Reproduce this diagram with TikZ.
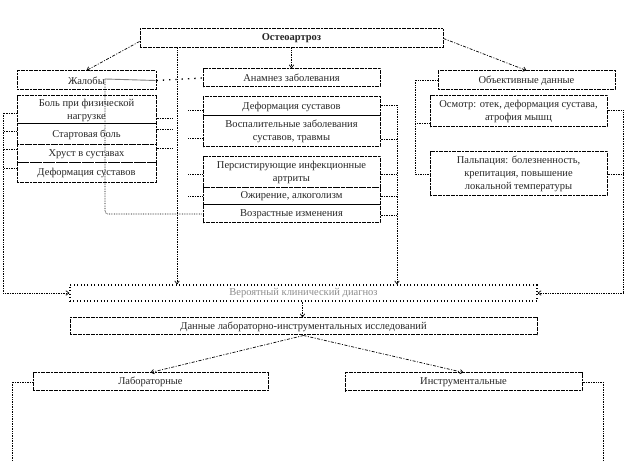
\documentclass[tikz,border=0pt]{standalone}
\usepackage{fontspec}
\setmainfont{Liberation Serif}
\usetikzlibrary{arrows.meta,positioning}

\begin{document}
\begin{tikzpicture}[x=1pt,y=-1pt,
  every node/.style={font=\fontsize{10.5}{13}\selectfont,text=black!85},
  box/.style={draw,line width=1pt,dash pattern=on 2pt off .6pt,inner sep=0pt,align=center},
  dbox/.style={draw,line width=1.1pt,dash pattern=on 1pt off 2.4pt,inner sep=0pt,align=center},
  lnk/.style={line width=.7pt,densely dotted},
  ldot/.style={line width=1.3pt,dash pattern=on 1.3pt off 5pt},
  ldd/.style={line width=.7pt,dash pattern=on 3pt off 1.5pt on 1pt off 1.5pt},
  arr/.style={-{Straight Barb[length=3pt,width=4.5pt]}}]
\useasboundingbox (0,0) rectangle (625,462);
% bus lines
\coordinate (bL) at (3,0);
\coordinate (cR) at (172,0);
\coordinate (cL) at (177,0);
\coordinate (mL) at (188,0);
\coordinate (mR) at (397,0);
\coordinate (rL) at (415,0);
\coordinate (rR) at (623,0);
\coordinate (gK) at (105,79);
\coordinate (lB) at (12,462);
\coordinate (rB) at (603,462);
% top
\node[box,minimum width=303,minimum height=19,font=\fontsize{10.5}{13}\selectfont\bfseries] (ost) at (291.5,38.5) {Остеоартроз};
% left column
\node[box,minimum width=139,minimum height=19] (zhal) at (86.5,80.5) {Жалобы};
\node[box,minimum width=139,minimum height=28] (bol) at (86.5,110) {Боль при физической\\нагрузке};
\node[box,minimum width=139,minimum height=21] (start) at (86.5,134.5) {Стартовая боль};
\node[box,minimum width=139,minimum height=18] (hrust) at (86.5,154) {Хруст в суставах};
\node[box,minimum width=139,minimum height=20] (defl) at (86.5,173) {Деформация суставов};
% middle column
\node[box,minimum width=177,minimum height=18] (anam) at (291.5,78) {Анамнез заболевания};
\node[box,minimum width=177,minimum height=19] (defm) at (291.5,106.5) {Деформация суставов};
\node[box,minimum width=177,minimum height=31] (vosp) at (291.5,131.5) {Воспалительные заболевания\\суставов, травмы};
\node[box,minimum width=177,minimum height=31] (pers) at (291.5,172.5) {Персистирующие инфекционные\\артриты};
\node[box,minimum width=177,minimum height=17] (ozh) at (291.5,196.5) {Ожирение, алкоголизм};
\node[box,minimum width=177,minimum height=18] (vozr) at (291.5,214) {Возрастные изменения};
% right column
\node[box,minimum width=177,minimum height=19] (obj) at (526.5,80.5) {Объективные данные};
\node[box,minimum width=177,minimum height=31] (osm) at (518.5,111.5) {Осмотр: отек, деформация сустава,\\атрофия мышц};
\node[box,minimum width=177,minimum height=44] (palp) at (518.5,174) {Пальпация: болезненность,\\крепитация, повышение\\локальной температуры};
% lower part
\node[dbox,minimum width=467,minimum height=16,text=black!45] (diag) at (303.5,293) {Вероятный клинический диагноз};
\node[box,minimum width=467,minimum height=17] (dann) at (303.5,326.5) {Данные лабораторно-инструментальных исследований};
\node[box,minimum width=235,minimum height=18] (lab) at (150.5,382) {Лабораторные};
\node[box,minimum width=237,minimum height=18] (instr) at (463.5,382) {Инструментальные};

% from the top box
\draw[ldd,arr] ([yshift=-3]ost.west) -- (zhal.north);
\draw[ldd,arr] (ost.east) -- (obj.north);
\draw[lnk,arr] (ost.south) -- (anam.north);
\draw[lnk,arr] (ost.south -| cL) -- (diag.north -| cL);
\draw[ldot] (zhal.east) -- (anam.west);
% left column
\draw[lnk] ([yshift=-3]bol.west) -- ([yshift=-3]bol.west -| bL);
\draw[lnk] ([yshift=3]start.west) -- ([yshift=3]start.west -| bL);
\draw[lnk] ([yshift=5]hrust.west) -- ([yshift=5]hrust.west -| bL);
\draw[lnk] ([yshift=5]defl.west) -- ([yshift=5]defl.west -| bL);
\draw[lnk,arr] ([yshift=-3]bol.west -| bL) |- (diag.west);
\draw[lnk] ([yshift=-8]bol.east) -- ([yshift=-8]bol.east -| cR);
\draw[lnk] ([yshift=5]start.east) -- ([yshift=5]start.east -| cR);
\draw[lnk] ([yshift=6]hrust.east) -- ([yshift=6]hrust.east -| cR);
\draw[gray,line width=.9pt] ([xshift=-1]zhal.east) -- (gK);
\draw[lnk,rounded corners=3] (gK) |- (vozr.west);
% middle column
\draw[lnk] ([yshift=-4]defm.west) -- ([yshift=-4]defm.west -| mL);
\draw[lnk] ([yshift=-7]vosp.west) -- ([yshift=-7]vosp.west -| mL);
\draw[lnk] ([yshift=-2]pers.west) -- ([yshift=-2]pers.west -| mL);
\draw[lnk] (ozh.west) -- (ozh.west -| mL);
\draw[lnk] ([yshift=1]defm.east) -- ([yshift=1]defm.east -| mR);
\draw[lnk] ([yshift=-8]vosp.east) -- ([yshift=-8]vosp.east -| mR);
\draw[lnk] ([yshift=-2]pers.east) -- ([yshift=-2]pers.east -| mR);
\draw[lnk] (ozh.east) -- (ozh.east -| mR);
\draw[lnk] ([yshift=-1]vozr.east) -- ([yshift=-1]vozr.east -| mR);
\draw[lnk,arr] ([yshift=1]defm.east -| mR) -- (diag.north -| mR);
% right column
\draw[lnk] (obj.west) -- (obj.west -| rL) -- (palp.west -| rL) -- (palp.west);
\draw[lnk] ([yshift=-12]osm.west) -- ([yshift=-12]osm.west -| rL);
\draw[lnk] ([yshift=1]osm.east) -- ([yshift=1]osm.east -| rR);
\draw[lnk] (palp.east) -- (palp.east -| rR);
\draw[lnk,arr] ([yshift=1]osm.east -| rR) |- (diag.east);
% lower part
\draw[lnk,arr] ([xshift=-1]diag.south) -- ([xshift=-1]dann.north);
\draw[ldd,arr] (dann.south) -- (lab.north);
\draw[ldd,arr] (dann.south) -- (instr.north);
\draw[lnk] (lab.west) -| (lB);
\draw[lnk] (instr.east) -| (rB);
\end{tikzpicture}
\end{document}
